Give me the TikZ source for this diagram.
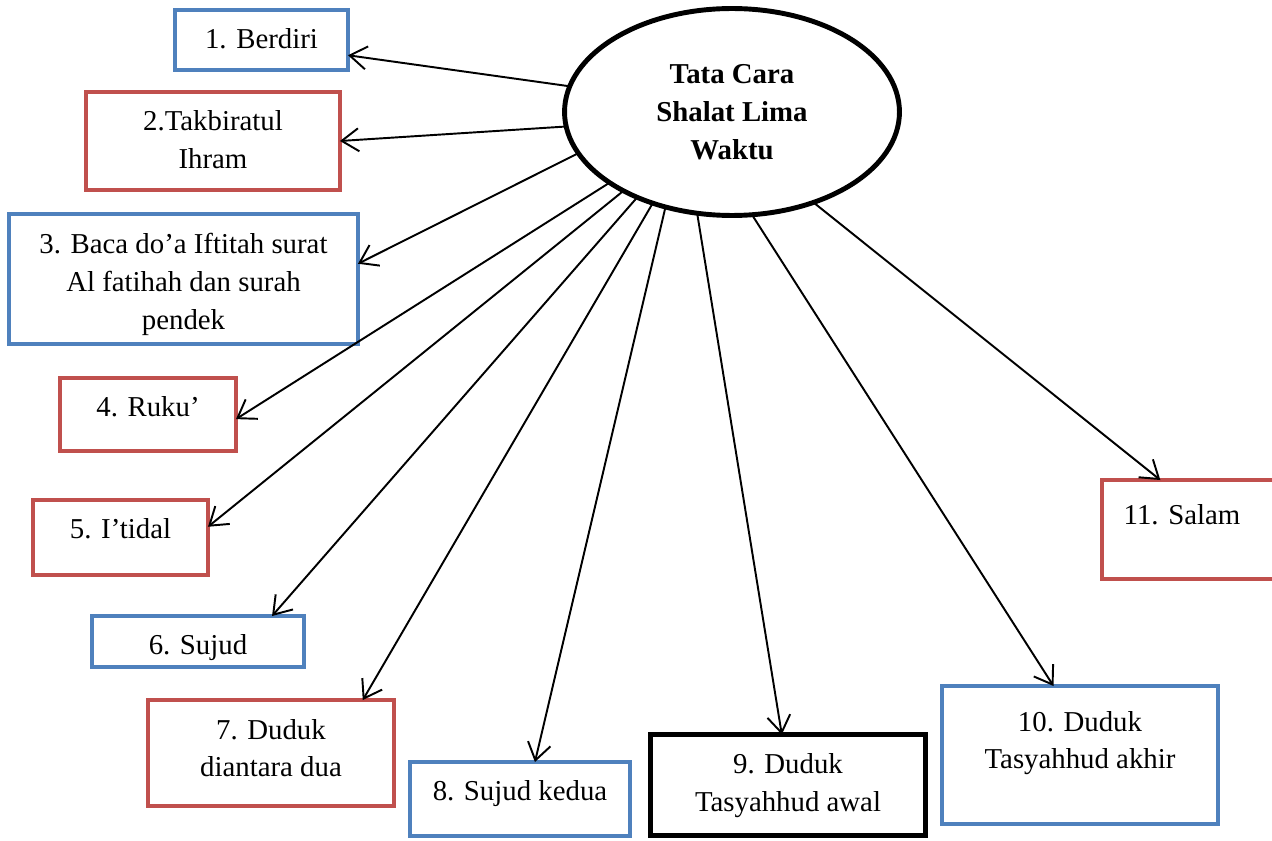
\documentclass[tikz,border=0pt]{standalone}
\usepackage{fontspec}
\setmainfont{Liberation Serif}
\usetikzlibrary{arrows.meta,shapes.geometric}
\definecolor{boxblue}{RGB}{79,129,189}
\definecolor{boxred}{RGB}{192,80,77}
\begin{document}
\begin{tikzpicture}[
    x=0.02cm, y=-0.02cm,
    font=\fontsize{16.4}{21.6}\selectfont,
    every node/.style={outer sep=0pt, inner sep=0pt},
    stepbox/.style={draw=#1, line width=2.2pt, rectangle},
    txt/.style={anchor=north, align=center, yshift=-0.38cm},
    arr/.style={line width=1.1pt, -{Straight Barb[length=3.4mm,width=4.6mm]}}
]
\useasboundingbox (0,0) rectangle (1272,841);
% centre
\node[draw, line width=2.8pt, ellipse, minimum width=6.7cm, minimum height=4.14cm,
      font=\fontsize{16.4}{21.6}\selectfont\bfseries, align=center] (tc) at (732,112)
    {Tata Cara\\Shalat Lima\\Waktu};
% steps
\node[stepbox=boxblue, minimum width=3.46cm, minimum height=1.20cm,
      label={[txt]north:1. Berdiri}] (b1) at (261.5,40) {};
\node[stepbox=boxred, minimum width=5.08cm, minimum height=1.96cm,
      label={[txt]north:{2.Takbiratul\\Ihram}}] (b2) at (213,141) {};
\node[stepbox=boxblue, minimum width=6.98cm, minimum height=2.60cm,
      label={[txt]north:{3. Baca do’a Iftitah surat\\Al fatihah dan surah\\pendek}}] (b3) at (183.5,279) {};
\node[stepbox=boxred, minimum width=3.52cm, minimum height=1.46cm,
      label={[txt]north:4. Ruku’}] (b4) at (148,414.5) {};
\node[stepbox=boxred, minimum width=3.50cm, minimum height=1.50cm,
      label={[txt]north:5. I’tidal}] (b5) at (120.5,537.5) {};
\node[stepbox=boxblue, minimum width=4.24cm, minimum height=1.02cm,
      label={[txt]north:6. Sujud}] (b6) at (198,641.5) {};
\node[stepbox=boxred, minimum width=4.92cm, minimum height=2.12cm,
      label={[txt]north:{7. Duduk\\diantara dua}}] (b7) at (271,753) {};
\node[stepbox=boxblue, minimum width=4.40cm, minimum height=1.48cm,
      label={[txt]north:8. Sujud kedua}] (b8) at (520,799) {};
\node[stepbox=black, line width=2.8pt, minimum width=5.50cm, minimum height=2.02cm,
      label={[txt]north:{9. Duduk\\Tasyahhud awal}}] (b9) at (788,785) {};
\node[stepbox=boxblue, minimum width=5.52cm, minimum height=2.76cm,
      label={[txt, yshift=-0.12cm]north:{10. Duduk\\Tasyahhud akhir}}] (b10) at (1080,755) {};
\node[stepbox=boxred, minimum width=3.72cm, minimum height=1.98cm,
      label={[txt, yshift=-0.12cm, xshift=-0.26cm]north:11. Salam}] (b11) at (1195,529.5) {};
% arrows
\foreach \a/\b/\c in {171.8/b1/-10, 185.2/b2/0, 195.8/b3/5, 210.2/b4/-3,
    216/b5/7, 222/b6/19, 229.7/b7/30, 235.7/b8/68, 251.7/b9/97,
    -79/b10/111, -48.2/b11/125}
    \draw[arr] (tc.\a) -- (\b.\c);
\end{tikzpicture}
\end{document}
